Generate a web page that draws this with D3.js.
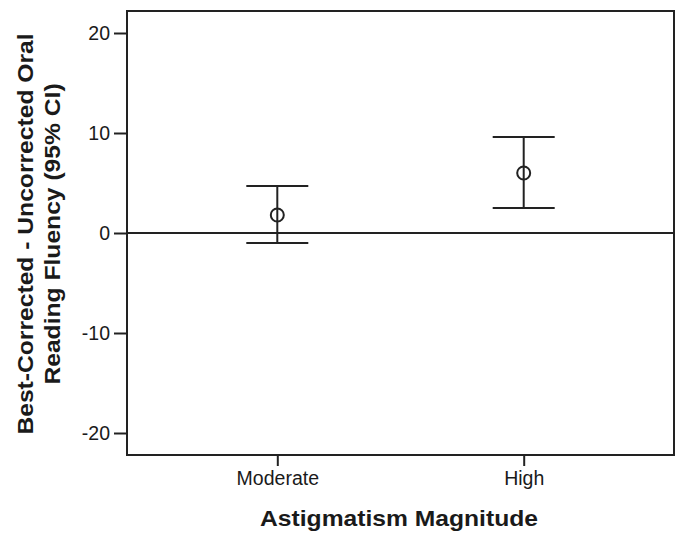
<!DOCTYPE html>
<html>
<head>
<meta charset="utf-8">
<script src="https://cdn.jsdelivr.net/npm/d3@7"></script>
<style>
  html, body { margin: 0; padding: 0; background: #fff; overflow: hidden; }
  svg { display: block; }
  text { font-family: "Liberation Sans", Arial, sans-serif; fill: #1a1a1a; }
</style>
</head>
<body>
<div id="chart"></div>
<script>
"use strict";

var categories = ["Moderate", "High"];
var means = [1.8, 6.0];
var lowerCI = [-1.0, 2.5];
var upperCI = [4.7, 9.6];
var yTicks = [-20, -10, 0, 10, 20];

var width = 680;
var height = 533;
var margin = {top: 11, right: 6, bottom: 78, left: 127};
var LINE_COLOR = "#222";
var TITLE_STRETCH = 1.12; // the original bold titles are a bit wider than Arial

var svg = d3.select("#chart")
    .append("svg")
    .attr("width", width)
    .attr("height", height);

var x = d3.scalePoint()
    .domain(categories)
    .range([margin.left, width - margin.right])
    .padding(0.61);

var y = d3.scaleLinear()
    .domain([-22.2, 22.2])
    .range([height - margin.bottom, margin.top]);

// plot frame
svg.append("rect")
    .attr("x", margin.left)
    .attr("y", margin.top)
    .attr("width", width - margin.right - margin.left)
    .attr("height", height - margin.bottom - margin.top)
    .attr("fill", "none")
    .attr("stroke", LINE_COLOR)
    .attr("stroke-width", 2);

// y axis (plain hyphen for negatives, like the original)
var yAxis = svg.append("g")
    .attr("transform", "translate(" + margin.left + ",0)")
    .call(d3.axisLeft(y).tickValues(yTicks).tickSize(13).tickPadding(4)
        .tickFormat(function(d) { return String(d); }));
yAxis.select(".domain").remove();
yAxis.selectAll(".tick line").attr("stroke", LINE_COLOR).attr("stroke-width", 2);
yAxis.selectAll(".tick text")
    .attr("font-size", 19.5)
    .attr("font-family", null)
    .attr("fill", null);

// x axis
var xAxis = svg.append("g")
    .attr("transform", "translate(0," + (height - margin.bottom) + ")")
    .call(d3.axisBottom(x).tickSize(11).tickPadding(5));
xAxis.select(".domain").remove();
xAxis.selectAll(".tick line").attr("stroke", LINE_COLOR).attr("stroke-width", 2);
xAxis.selectAll(".tick text")
    .attr("font-size", 19.5)
    .attr("font-family", null)
    .attr("fill", null);

// reference line at zero
svg.append("line")
    .attr("x1", margin.left)
    .attr("x2", width - margin.right)
    .attr("y1", y(0))
    .attr("y2", y(0))
    .attr("stroke", LINE_COLOR)
    .attr("stroke-width", 2);

// error bars
var capHalf = 31;
var bars = svg.selectAll(".ebar")
    .data(categories)
    .enter()
    .append("g")
    .attr("class", "ebar");

bars.append("line")
    .attr("x1", function(d) { return x(d); })
    .attr("x2", function(d) { return x(d); })
    .attr("y1", function(d, i) { return y(lowerCI[i]); })
    .attr("y2", function(d, i) { return y(upperCI[i]); })
    .attr("stroke", LINE_COLOR)
    .attr("stroke-width", 2);

bars.append("line")
    .attr("x1", function(d) { return x(d) - capHalf; })
    .attr("x2", function(d) { return x(d) + capHalf; })
    .attr("y1", function(d, i) { return y(upperCI[i]); })
    .attr("y2", function(d, i) { return y(upperCI[i]); })
    .attr("stroke", LINE_COLOR)
    .attr("stroke-width", 2);

bars.append("line")
    .attr("x1", function(d) { return x(d) - capHalf; })
    .attr("x2", function(d) { return x(d) + capHalf; })
    .attr("y1", function(d, i) { return y(lowerCI[i]); })
    .attr("y2", function(d, i) { return y(lowerCI[i]); })
    .attr("stroke", LINE_COLOR)
    .attr("stroke-width", 2);

// hollow mean marker, the bar line shows through it
bars.append("circle")
    .attr("cx", function(d) { return x(d); })
    .attr("cy", function(d, i) { return y(means[i]); })
    .attr("r", 6.5)
    .attr("fill", "none")
    .attr("stroke", LINE_COLOR)
    .attr("stroke-width", 2);

// widen a text element a little, keeping its glyph height
function stretch(sel) {
    sel.each(function() {
        var len = this.getComputedTextLength();
        d3.select(this)
            .attr("textLength", len * TITLE_STRETCH)
            .attr("lengthAdjust", "spacingAndGlyphs");
    });
}

// axis titles
svg.append("text")
    .attr("x", 399)
    .attr("y", 526)
    .attr("text-anchor", "middle")
    .attr("font-size", 22)
    .attr("font-weight", "bold")
    .text("Astigmatism Magnitude")
    .call(stretch);

var yTitle = svg.append("text")
    .attr("transform", "translate(33,234) rotate(-90)")
    .attr("text-anchor", "middle")
    .attr("font-size", 22)
    .attr("font-weight", "bold");
yTitle.append("tspan").attr("x", 0).attr("dy", 0).text("Best-Corrected - Uncorrected Oral");
yTitle.append("tspan").attr("x", 0).attr("dy", 27).text("Reading Fluency (95% CI)");
yTitle.selectAll("tspan").call(stretch);
</script>
</body>
</html>
